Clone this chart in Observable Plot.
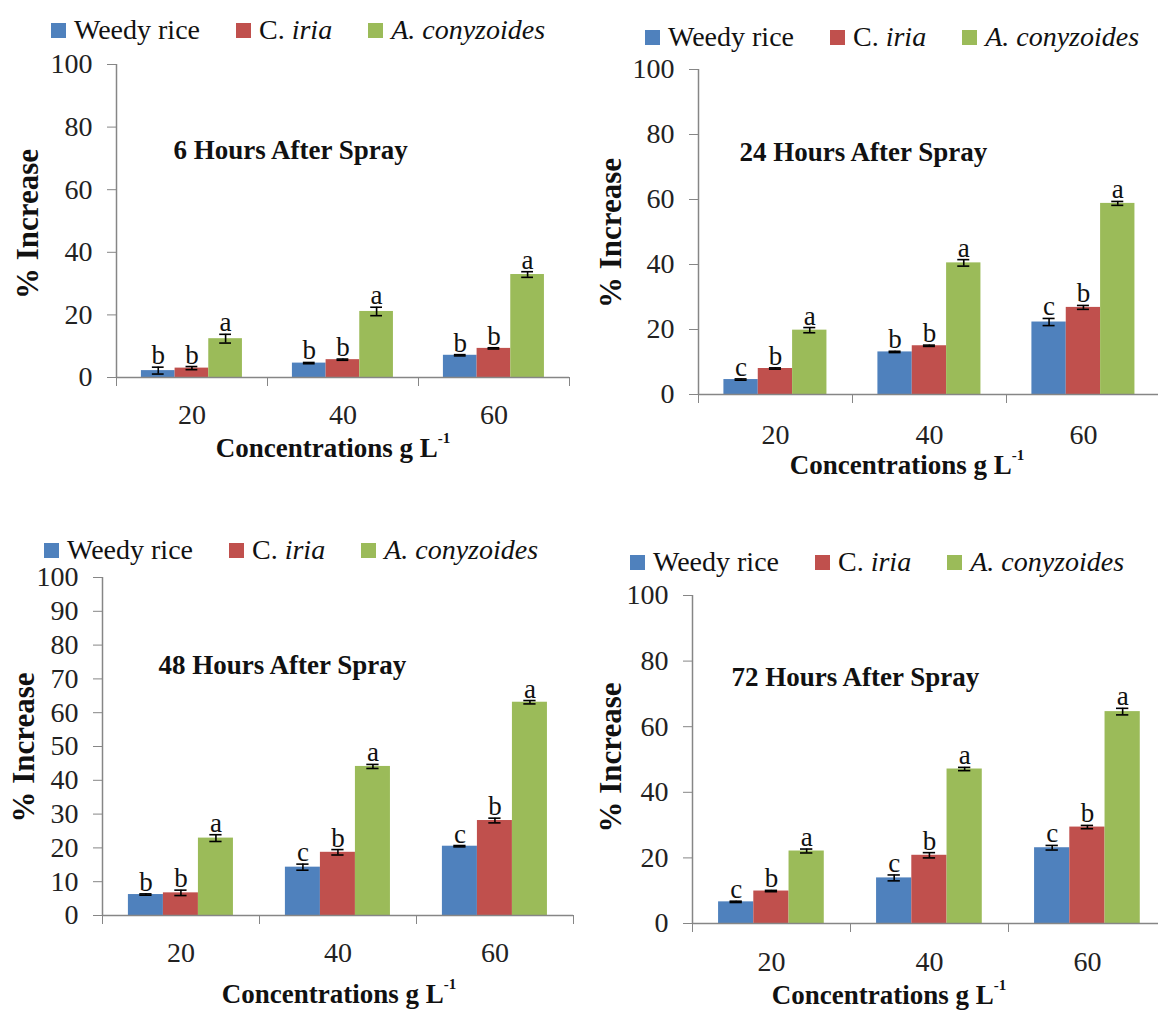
<!DOCTYPE html>
<html>
<head>
<meta charset="utf-8">
<script src="https://cdn.jsdelivr.net/npm/d3@7"></script>
<script src="https://cdn.jsdelivr.net/npm/@observablehq/plot@0.6"></script>
<style>
  html, body { margin: 0; padding: 0; background: #fff; overflow: hidden; }
  #root { position: relative; width: 1158px; height: 1012px; overflow: hidden; background: #fff;
          font-family: "Liberation Serif", "DejaVu Serif", serif; color: #111; }
  #root svg, #root svg text { font-family: "Liberation Serif", "DejaVu Serif", serif !important; }
  .panel-svg { position: absolute; }
  .legend { position: absolute; display: flex; align-items: center; font-size: 28px; white-space: nowrap;
            line-height: 1; transform: translateY(-50%); font-family: "Liberation Serif", "DejaVu Serif", serif; }
  .legend .item { display: flex; align-items: center; margin-right: 36px; }
  .legend .sw { width: 15px; height: 15px; margin-right: 8px; display: inline-block; }
  .xlabel { position: absolute; font-weight: bold; font-size: 27px; transform: translate(-50%, -50%);
            white-space: nowrap; line-height: 1; font-family: "Liberation Serif", "DejaVu Serif", serif; }
  .xlabel sup { font-size: 15px; position: relative; top: -4px; vertical-align: top; }
  g[aria-label="x-axis tick"], g[aria-label="y-axis tick"] { stroke: #868686; }
</style>
</head>
<body>
<div id="root"></div>
<script>
// ---------- data ----------
const concentrations = ["20", "40", "60"];
const species = ["Weedy rice", "C. iria", "A. conyzoides"];
const speciesLegend = ["Weedy rice", "C. <i>iria</i>", "<i>A. conyzoides</i>"];
const speciesColors = ["#4F81BD", "#C0504D", "#9BBB59"];
const panelTitles = ["6 Hours After Spray", "24 Hours After Spray", "48 Hours After Spray", "72 Hours After Spray"];
const yTicks20 = [0, 20, 40, 60, 80, 100];
const yTicks10 = [0, 10, 20, 30, 40, 50, 60, 70, 80, 90, 100];

// 6 hours after spray
const weedy6 = [2.2, 4.6, 7.1];
const iria6 = [3.0, 5.7, 9.3];
const conyz6 = [12.4, 21.1, 32.9];
const weedy6Err = [1.1, 0.2, 0.2];
const iria6Err = [0.5, 0.2, 0.2];
const conyz6Err = [1.4, 1.35, 0.9];
const weedy6Sig = ["b", "b", "b"];
const iria6Sig = ["b", "b", "b"];
const conyz6Sig = ["a", "a", "a"];

// 24 hours after spray
const weedy24 = [4.6, 13.1, 22.3];
const iria24 = [8.0, 15.0, 26.8];
const conyz24 = [19.8, 40.5, 58.8];
const weedy24Err = [0.2, 0.2, 1.1];
const iria24Err = [0.2, 0.2, 0.6];
const conyz24Err = [0.8, 1.0, 0.6];
const weedy24Sig = ["c", "b", "c"];
const iria24Sig = ["b", "b", "b"];
const conyz24Sig = ["a", "a", "a"];

// 48 hours after spray
const weedy48 = [6.2, 14.3, 20.5];
const iria48 = [6.7, 18.7, 28.1];
const conyz48 = [22.9, 44.1, 63.1];
const weedy48Err = [0.2, 0.9, 0.2];
const iria48Err = [0.8, 0.8, 0.7];
const conyz48Err = [1.0, 0.6, 0.5];
const weedy48Sig = ["b", "c", "c"];
const iria48Sig = ["b", "b", "b"];
const conyz48Sig = ["a", "a", "a"];

// 72 hours after spray
const weedy72 = [6.6, 13.9, 23.1];
const iria72 = [9.9, 20.8, 29.4];
const conyz72 = [22.1, 47.1, 64.6];
const weedy72Err = [0.2, 0.9, 0.7];
const iria72Err = [0.2, 0.8, 0.5];
const conyz72Err = [0.6, 0.5, 1.0];
const weedy72Sig = ["c", "c", "c"];
const iria72Sig = ["b", "b", "b"];
const conyz72Sig = ["a", "a", "a"];

// ---------- layout (pixels) ----------
const layouts = [
  {left: 0, top: 50, width: 580, height: 390, marginLeft: 116, marginRight: 11, marginTop: 14, marginBottom: 63,
   yTicks: yTicks20, titleDx: 57, titleDy: 86, ylabDx: -88, ylabDy: 3, catDy: 38,
   legendX: 51, legendY: 30, xlabX: 333, xlabY: 448},
  {left: 580, top: 50, width: 582, height: 410, marginLeft: 118, marginRight: 2, marginTop: 19, marginBottom: 66,
   yTicks: yTicks20, titleDx: 41, titleDy: 83, ylabDx: -87, ylabDy: 1, catDy: 41,
   legendX: 645, legendY: 37, xlabX: 907, xlabY: 465},
  {left: 0, top: 560, width: 580, height: 415, marginLeft: 102, marginRight: 7, marginTop: 17, marginBottom: 60,
   yTicks: yTicks10, titleDx: 56, titleDy: 88, ylabDx: -78, ylabDy: 1, catDy: 38,
   legendX: 44, legendY: 550, xlabX: 339, xlabY: 994},
  {left: 580, top: 570, width: 600, height: 415, marginLeft: 112, marginRight: 14, marginTop: 25, marginBottom: 62,
   yTicks: yTicks20, titleDx: 39, titleDy: 82, ylabDx: -81, ylabDy: -2, catDy: 39,
   legendX: 630, legendY: 562, xlabX: 889, xlabY: 995}
];

const panelsData = [
  {values: [weedy6, iria6, conyz6], errs: [weedy6Err, iria6Err, conyz6Err], sigs: [weedy6Sig, iria6Sig, conyz6Sig]},
  {values: [weedy24, iria24, conyz24], errs: [weedy24Err, iria24Err, conyz24Err], sigs: [weedy24Sig, iria24Sig, conyz24Sig]},
  {values: [weedy48, iria48, conyz48], errs: [weedy48Err, iria48Err, conyz48Err], sigs: [weedy48Sig, iria48Sig, conyz48Sig]},
  {values: [weedy72, iria72, conyz72], errs: [weedy72Err, iria72Err, conyz72Err], sigs: [weedy72Sig, iria72Sig, conyz72Sig]}
];

// bar geometry in category units
const groupStart = 0.165;
const barW = 0.223;
const capHalf = 0.039;
const axisGray = "#868686";
const serif = '"Liberation Serif", "DejaVu Serif", serif';

const root = document.getElementById("root");

panelsData.forEach((pd, p) => {
  const L = layouts[p];
  const rows = [];
  concentrations.forEach((conc, ci) => {
    species.forEach((sp, si) => {
      rows.push({conc, ci, species: sp, si,
                 value: pd.values[si][ci], err: pd.errs[si][ci], sig: pd.sigs[si][ci]});
    });
  });
  const x1 = d => d.ci + groupStart + d.si * barW;
  const xc = d => d.ci + groupStart + (d.si + 0.5) * barW;

  const chart = Plot.plot({
    width: L.width, height: L.height,
    marginLeft: L.marginLeft, marginRight: L.marginRight, marginTop: L.marginTop, marginBottom: L.marginBottom,
    style: {fontFamily: serif, fontSize: "28px", color: "#222", background: "transparent", overflow: "visible"},
    x: {domain: [0, 3], ticks: [0, 1, 2, 3], tickFormat: () => "", tickSize: 9, label: null},
    y: {domain: [0, 100], ticks: L.yTicks, tickSize: 9, tickPadding: 15, label: null},
    color: {domain: species, range: speciesColors},
    marks: [
      Plot.rect(rows, {x1: x1, x2: d => x1(d) + barW, y1: 0, y2: "value", fill: "species"}),
      Plot.ruleX(rows, {x: xc, y1: d => d.value - d.err, y2: d => d.value + d.err, stroke: "#000", strokeWidth: 1.6}),
      Plot.ruleY(rows, {y: d => d.value + d.err, x1: d => xc(d) - capHalf, x2: d => xc(d) + capHalf, stroke: "#000", strokeWidth: 1.6}),
      Plot.ruleY(rows, {y: d => d.value - d.err, x1: d => xc(d) - capHalf, x2: d => xc(d) + capHalf, stroke: "#000", strokeWidth: 1.6}),
      Plot.text(rows, {x: xc, y: d => d.value + d.err, text: "sig", lineAnchor: "bottom", dy: -3, fontSize: 27, fontFamily: serif, fill: "#111"}),
      Plot.ruleX([0], {stroke: axisGray, strokeWidth: 1.5}),
      Plot.ruleY([0], {stroke: axisGray, strokeWidth: 1.5}),
      Plot.text(concentrations, {x: (d, i) => i + 0.5, y: () => 0, text: d => d, dy: L.catDy, lineAnchor: "middle", fontSize: 28, fontFamily: serif, fill: "#222"}),
      Plot.text([panelTitles[p]], {frameAnchor: "top-left", dx: L.titleDx, dy: L.titleDy, textAnchor: "start", lineAnchor: "middle",
                                    fontWeight: "bold", fontSize: 27, fontFamily: serif, fill: "#111"}),
      Plot.text(["% Increase"], {frameAnchor: "left", dx: L.ylabDx, dy: L.ylabDy, rotate: -90, textAnchor: "middle", lineAnchor: "middle",
                                 fontWeight: "bold", fontSize: 31, fontFamily: serif, fill: "#111"})
    ]
  });
  chart.classList.add("panel-svg");
  chart.style.left = L.left + "px";
  chart.style.top = L.top + "px";
  root.appendChild(chart);

  // legend
  const leg = document.createElement("div");
  leg.className = "legend";
  leg.style.left = L.legendX + "px";
  leg.style.top = L.legendY + "px";
  leg.innerHTML = species.map((s, i) =>
    `<span class="item"><span class="sw" style="background:${speciesColors[i]}"></span><span>${speciesLegend[i]}</span></span>`).join("");
  root.appendChild(leg);

  // x axis title
  const xl = document.createElement("div");
  xl.className = "xlabel";
  xl.style.left = L.xlabX + "px";
  xl.style.top = L.xlabY + "px";
  xl.innerHTML = "Concentrations g L<sup>-1</sup>";
  root.appendChild(xl);
});
</script>
</body>
</html>
